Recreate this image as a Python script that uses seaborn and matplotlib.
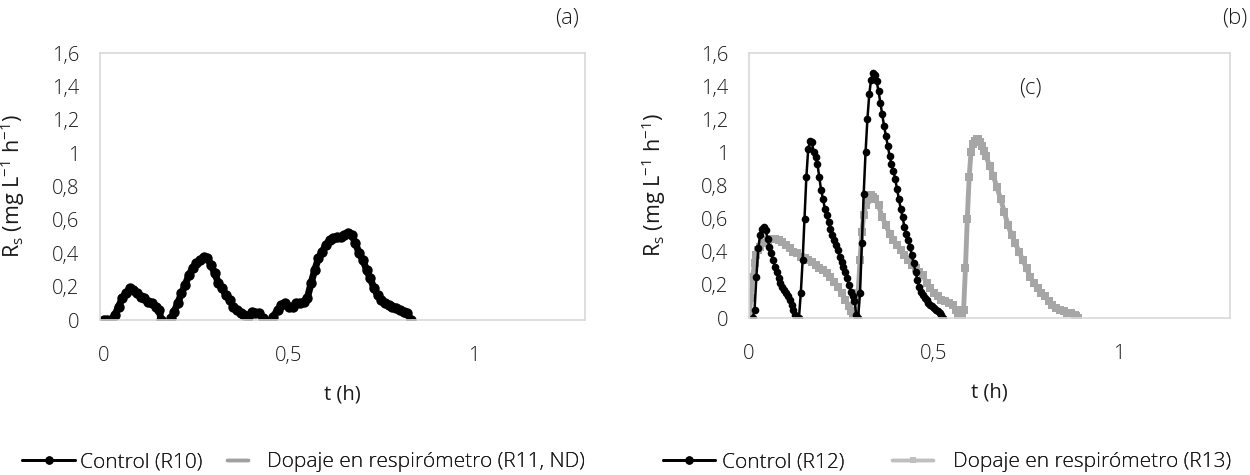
import pandas as pd
import matplotlib.pyplot as plt
import seaborn as sns
from matplotlib.lines import Line2D

# ---- datos (t en h, Rs en mg L-1 h-1) ----
# Control (R10): tres tramos separados
r10_tramo1 = [(0.000, 0.00), (0.010, 0.00), (0.020, 0.00), (0.030, 0.03), (0.040, 0.08),
              (0.050, 0.13), (0.060, 0.16), (0.070, 0.19), (0.080, 0.18), (0.090, 0.16),
              (0.100, 0.14), (0.110, 0.13), (0.120, 0.11), (0.130, 0.10), (0.140, 0.08),
              (0.150, 0.06), (0.155, 0.00)]
r10_tramo2 = [(0.183, 0.01), (0.190, 0.05), (0.200, 0.10), (0.210, 0.16), (0.220, 0.21),
              (0.230, 0.27), (0.240, 0.31), (0.250, 0.34), (0.260, 0.36), (0.270, 0.38),
              (0.280, 0.37), (0.290, 0.33), (0.300, 0.28), (0.310, 0.22), (0.320, 0.19),
              (0.330, 0.15), (0.340, 0.12), (0.350, 0.08), (0.360, 0.06), (0.370, 0.04),
              (0.380, 0.03), (0.390, 0.02), (0.400, 0.05), (0.410, 0.04), (0.420, 0.04),
              (0.430, 0.01), (0.432, 0.00)]
r10_tramo3 = [(0.457, 0.02), (0.470, 0.06), (0.480, 0.09), (0.490, 0.10), (0.500, 0.08),
              (0.510, 0.08), (0.520, 0.10), (0.530, 0.10), (0.540, 0.11), (0.550, 0.13),
              (0.560, 0.22), (0.570, 0.30), (0.580, 0.37), (0.590, 0.41), (0.600, 0.45),
              (0.610, 0.48), (0.620, 0.49), (0.630, 0.50), (0.640, 0.50), (0.650, 0.51),
              (0.660, 0.52), (0.670, 0.51), (0.680, 0.46), (0.690, 0.40), (0.700, 0.36),
              (0.710, 0.30), (0.720, 0.25), (0.730, 0.19), (0.740, 0.15), (0.750, 0.12),
              (0.760, 0.10), (0.770, 0.09), (0.780, 0.08), (0.790, 0.07), (0.800, 0.06),
              (0.810, 0.05), (0.820, 0.04), (0.830, 0.00)]

# Control (R12)
r12 = [(0.010, 0.00), (0.015, 0.05), (0.020, 0.25), (0.025, 0.42), (0.030, 0.50),
       (0.035, 0.54), (0.040, 0.55), (0.045, 0.53), (0.050, 0.48), (0.055, 0.43),
       (0.060, 0.39), (0.065, 0.35), (0.070, 0.31), (0.075, 0.28), (0.080, 0.24),
       (0.085, 0.21), (0.090, 0.19), (0.095, 0.17), (0.100, 0.15), (0.105, 0.13),
       (0.110, 0.11), (0.115, 0.08), (0.120, 0.05), (0.125, 0.02), (0.130, 0.00),
       (0.135, 0.00), (0.140, 0.15), (0.145, 0.35), (0.150, 0.60), (0.155, 0.85),
       (0.160, 1.02), (0.165, 1.07), (0.170, 1.06), (0.175, 1.00), (0.180, 0.97),
       (0.185, 0.93), (0.190, 0.85), (0.195, 0.77), (0.200, 0.72), (0.205, 0.66),
       (0.210, 0.62), (0.215, 0.58), (0.220, 0.54), (0.225, 0.50), (0.230, 0.47),
       (0.235, 0.44), (0.240, 0.41), (0.245, 0.37), (0.250, 0.34), (0.255, 0.31),
       (0.260, 0.28), (0.265, 0.24), (0.270, 0.20), (0.275, 0.16), (0.280, 0.13),
       (0.285, 0.10), (0.290, 0.02), (0.295, 0.00), (0.300, 0.15), (0.305, 0.45),
       (0.310, 0.75), (0.315, 1.00), (0.320, 1.20), (0.325, 1.35), (0.330, 1.44),
       (0.335, 1.48), (0.340, 1.47), (0.345, 1.43), (0.350, 1.37), (0.355, 1.30),
       (0.360, 1.23), (0.365, 1.16), (0.370, 1.10), (0.375, 1.04), (0.380, 0.98),
       (0.385, 0.93), (0.390, 0.89), (0.395, 0.84), (0.400, 0.78), (0.405, 0.72),
       (0.410, 0.66), (0.415, 0.61), (0.420, 0.55), (0.425, 0.51), (0.430, 0.47),
       (0.435, 0.43), (0.440, 0.38), (0.445, 0.33), (0.450, 0.28), (0.455, 0.23),
       (0.460, 0.19), (0.465, 0.16), (0.470, 0.14), (0.475, 0.12), (0.480, 0.11),
       (0.485, 0.09), (0.490, 0.08), (0.495, 0.07), (0.500, 0.06), (0.505, 0.05),
       (0.510, 0.04), (0.515, 0.03), (0.520, 0.02), (0.525, 0.00)]

# Dopaje en respirometro (R13)
r13 = [(0.000, 0.00), (0.005, 0.12), (0.010, 0.25), (0.015, 0.33), (0.020, 0.38),
       (0.025, 0.41), (0.030, 0.43), (0.040, 0.45), (0.050, 0.47), (0.060, 0.48),
       (0.070, 0.48), (0.080, 0.47), (0.090, 0.46), (0.100, 0.44), (0.110, 0.42),
       (0.120, 0.40), (0.130, 0.39), (0.140, 0.37), (0.150, 0.36), (0.160, 0.35),
       (0.170, 0.34), (0.180, 0.32), (0.190, 0.30), (0.200, 0.29), (0.210, 0.27),
       (0.220, 0.25), (0.230, 0.22), (0.240, 0.19), (0.250, 0.15), (0.260, 0.11),
       (0.270, 0.07), (0.275, 0.04), (0.280, 0.01), (0.285, 0.00), (0.290, 0.00),
       (0.295, 0.15), (0.300, 0.35), (0.305, 0.52), (0.310, 0.62), (0.315, 0.68),
       (0.320, 0.71), (0.325, 0.73), (0.330, 0.74), (0.335, 0.73), (0.340, 0.72),
       (0.350, 0.68), (0.360, 0.61), (0.370, 0.56), (0.380, 0.51), (0.390, 0.47),
       (0.400, 0.44), (0.410, 0.41), (0.420, 0.38), (0.430, 0.35), (0.440, 0.32),
       (0.450, 0.30), (0.460, 0.28), (0.470, 0.26), (0.480, 0.21), (0.490, 0.18),
       (0.500, 0.15), (0.510, 0.13), (0.520, 0.11), (0.530, 0.10), (0.540, 0.09),
       (0.550, 0.08), (0.560, 0.05), (0.565, 0.02), (0.570, 0.00), (0.575, 0.00),
       (0.580, 0.05), (0.585, 0.30), (0.590, 0.60), (0.595, 0.85), (0.600, 1.00),
       (0.605, 1.05), (0.610, 1.07), (0.615, 1.08), (0.620, 1.08), (0.625, 1.06),
       (0.630, 1.04), (0.635, 1.01), (0.640, 0.98), (0.650, 0.92), (0.660, 0.86),
       (0.670, 0.79), (0.680, 0.72), (0.690, 0.64), (0.700, 0.56), (0.710, 0.50),
       (0.720, 0.45), (0.730, 0.40), (0.740, 0.35), (0.750, 0.30), (0.760, 0.25),
       (0.770, 0.21), (0.780, 0.18), (0.790, 0.15), (0.800, 0.13), (0.810, 0.10),
       (0.820, 0.08), (0.830, 0.06), (0.840, 0.05), (0.850, 0.04), (0.860, 0.03),
       (0.870, 0.03), (0.880, 0.02), (0.885, 0.01), (0.890, 0.00)]

y_ticks = [0, 0.2, 0.4, 0.6, 0.8, 1.0, 1.2, 1.4, 1.6]
y_tick_labels = ["0", "0,2", "0,4", "0,6", "0,8", "1", "1,2", "1,4", "1,6"]
x_ticks = [0, 0.5, 1.0]
x_tick_labels = ["0", "0,5", "1"]

GRIS_EJE = "#d9d9d9"
GRIS_R13 = "#a6a6a6"


def a_tabla(puntos, tramo):
    df = pd.DataFrame(puntos, columns=["t", "rs"])
    df["tramo"] = tramo
    return df


sns.set_theme(style="white")
plt.rcParams["font.family"] = ["Open Sans", "DejaVu Sans"]
plt.rcParams["font.weight"] = "light"
plt.rcParams["mathtext.fontset"] = "custom"
plt.rcParams["mathtext.rm"] = "Open Sans:light"
plt.rcParams["text.color"] = "#1a1a1a"
plt.rcParams["axes.labelcolor"] = "#1a1a1a"
plt.rcParams["xtick.color"] = "#1a1a1a"
plt.rcParams["ytick.color"] = "#1a1a1a"

fs = 14.5
fig = plt.figure(figsize=(12.5, 4.75), dpi=100)
ax1 = fig.add_axes([100 / 1250, 1 - 320 / 475, (585 - 100) / 1250, (320 - 53) / 475])
ax2 = fig.add_axes([749 / 1250, 1 - 318 / 475, (1230 - 749) / 1250, (318 - 53) / 475])

# panel (a)
df10 = pd.concat([a_tabla(r10_tramo1, 1), a_tabla(r10_tramo2, 2), a_tabla(r10_tramo3, 3)])
sns.lineplot(data=df10, x="t", y="rs", units="tramo", estimator=None, sort=False,
             color="black", linewidth=5, marker="o", markersize=7.5,
             markeredgewidth=0, ax=ax1)

# panel (b)
sns.lineplot(data=a_tabla(r13, 1), x="t", y="rs", estimator=None, sort=False,
             color=GRIS_R13, linewidth=3.5, marker="s", markersize=5.5,
             markeredgewidth=0, ax=ax2)
sns.lineplot(data=a_tabla(r12, 1), x="t", y="rs", estimator=None, sort=False,
             color="black", linewidth=1.8, marker="o", markersize=5.5,
             markeredgewidth=0, ax=ax2)

for ax, xmin, ylab_x in [(ax1, -0.01, -0.150), (ax2, 0.0, -0.168)]:
    ax.set_xlim(xmin, 1.3)
    ax.set_ylim(0, 1.6)
    ax.set_xticks(x_ticks)
    ax.set_xticklabels(x_tick_labels, fontsize=fs)
    ax.set_yticks(y_ticks)
    ax.set_yticklabels(y_tick_labels, fontsize=fs)
    ax.tick_params(axis="both", length=4, width=1, color=GRIS_EJE)
    ax.tick_params(axis="y", pad=11)
    ax.tick_params(axis="x", pad=15)
    for sp in ax.spines.values():
        sp.set_color(GRIS_EJE)
        sp.set_linewidth(1.2)
    ax.set_xlabel("t (h)", fontsize=fs, labelpad=13)
    ax.set_ylabel(r"R$_\mathregular{s}$ (mg L$^\mathregular{-1}$ h$^\mathregular{-1}$)",
                  fontsize=fs + 1)
    ax.yaxis.set_label_coords(ylab_x, 0.5)

ax2.text(0.76, 1.39, "(c)", fontsize=fs + 1.5, ha="center", va="center")
fig.text(579 / 1250, 1 - 18 / 475, "(a)", fontsize=fs + 1.5, ha="right", va="center")
fig.text(1247 / 1250, 1 - 18 / 475, "(b)", fontsize=fs + 1.5, ha="right", va="center")

# leyendas: una por entrada para fijar la posicion de cada una
fs_leg = 15
px = fs_leg * 100 / 72
y_leg = 1 - 462 / 475
entradas = [
    (Line2D([], [], color="black", linewidth=2, marker="o", markersize=5),
     "Control (R10)", 22, 53, 5),
    (Line2D([], [], color="#a0a0a0", linewidth=2.5),
     "Dopaje en respirómetro (R11, ND)", 227, 21, 19),
    (Line2D([], [], color="black", linewidth=2, marker="o", markersize=5),
     "Control (R12)", 663, 52, 7),
    (Line2D([], [], color="#bfbfbf", linewidth=2.5, marker="s", markersize=5,
            markeredgewidth=0),
     "Dopaje en respirómetro (R13)", 892, 41, 20),
]
for h, txt, x0, largo, sep in entradas:
    leg = fig.legend([h], [txt], loc="center left", bbox_to_anchor=(x0 / 1250, y_leg),
                     frameon=False, fontsize=fs_leg, handlelength=largo / px,
                     handletextpad=sep / px, borderpad=0, borderaxespad=0, numpoints=1)
    fig.add_artist(leg)

fig.savefig("out.png", dpi=100)
